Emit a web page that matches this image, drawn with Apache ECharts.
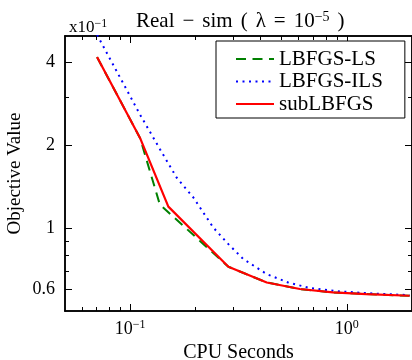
<!DOCTYPE html>
<html><head><meta charset="utf-8">
<script src="https://cdn.jsdelivr.net/npm/echarts@6/dist/echarts.min.js"></script>
<style>html,body{margin:0;padding:0;background:#fff}#c{width:412px;height:360px}</style>
</head><body><div id="c"></div>
<script>
const seriesNames = ['LBFGS-LS', 'LBFGS-ILS', 'subLBFGS'];
const lsTime   = [0.0703, 0.111, 0.137, 0.284, 0.427, 0.607, 0.862, 1.23, 1.95];
const lsValue  = [4.19, 2.13, 1.22, 0.724, 0.635, 0.601, 0.584, 0.576, 0.568];
const ilsTime  = [0.0703, 0.111, 0.1374, 0.164, 0.196, 0.242, 0.284, 0.333, 0.427, 0.536, 0.675, 0.929, 1.32, 1.95];
const ilsValue = [5.05, 2.59, 1.934, 1.526, 1.291, 1.005, 0.875, 0.772, 0.681, 0.635, 0.606, 0.589, 0.579, 0.571];
const subTime  = [0.0703, 0.111, 0.150, 0.284, 0.427, 0.607, 0.862, 1.23, 1.95];
const subValue = [4.19, 2.13, 1.198, 0.724, 0.635, 0.601, 0.584, 0.576, 0.568];
const xMajorTicks = [0.1, 1];
const xMinorTicks = [0.06, 0.07, 0.08, 0.09, 0.2, 0.3, 0.4, 0.5, 0.6, 0.7, 0.8, 0.9, 2];
const yMajorTicks = [0.6, 1, 2, 4];
const yMinorTicks = [0.7, 0.8, 0.9, 3];

const FONT = 'Liberation Serif';
const xMin = 0.05, xMax = 2, yMin = 0.5, yMax = 5;
const pair = (xs, ys) => xs.map((x, i) => [x, ys[i]]);
const G = '{g| }';

function xAxisDef(pos, ticks, len, showLabel, extra) {
  return Object.assign({
    type: 'log', logBase: 10, min: xMin, max: xMax, position: pos,
    axisLine: { show: true, lineStyle: { color: '#000', width: 1.5 } },
    axisTick: { show: true, inside: true, length: len, customValues: ticks, lineStyle: { color: '#000', width: 1 } },
    axisLabel: { show: showLabel, customValues: ticks },
    splitLine: { show: false }, minorTick: { show: false }
  }, extra || {});
}
function yAxisDef(pos, ticks, len, showLabel, extra) {
  return Object.assign({
    type: 'log', logBase: 10, min: yMin, max: yMax, position: pos,
    axisLine: { show: true, lineStyle: { color: '#000', width: 1.5 } },
    axisTick: { show: true, inside: true, length: len, customValues: ticks, lineStyle: { color: '#000', width: 1 } },
    axisLabel: { show: showLabel, customValues: ticks },
    splitLine: { show: false }, minorTick: { show: false }
  }, extra || {});
}

const chart = echarts.init(document.getElementById('c'));
chart.setOption({
  animation: false,
  backgroundColor: '#fff',
  title: [
    { text: 'Real' + G + '−' + G + 'sim' + G + '(' + G + 'λ' + G + '=' + G + '10{s|−5}' + G + ')', left: 131, top: 5,
      textStyle: { fontFamily: FONT, fontSize: 21, fontWeight: 'normal', color: '#000',
        rich: { s: { fontFamily: FONT, fontSize: 14, padding: [0, 0, 9, 0], color: '#000' },
                g: { width: 8, fontFamily: FONT, fontSize: 21 } } } },
    { text: 'x10{s|−1}', left: 64, top: 13,
      textStyle: { fontFamily: FONT, fontSize: 17, fontWeight: 'normal', color: '#000',
        rich: { s: { fontFamily: FONT, fontSize: 12, padding: [0, 0, 7, 0], color: '#000' } } } }
  ],
  grid: { left: 65, right: 0, top: 36, bottom: 49, containLabel: false, outerBoundsMode: 'none' },
  legend: {
    orient: 'vertical', left: 216, top: 41,
    padding: [7, 22, 3, 19], itemWidth: 38, itemHeight: 14, itemGap: 0.5,
    borderColor: '#000', borderWidth: 1, backgroundColor: '#fff',
    itemStyle: { opacity: 0 },
    textStyle: { fontFamily: FONT, fontSize: 21, lineHeight: 22, color: '#000' },
    data: seriesNames
  },
  xAxis: [
    xAxisDef('bottom', xMajorTicks, 7, true, {
      name: 'CPU Seconds', nameLocation: 'middle', nameGap: 31,
      nameTextStyle: { fontFamily: FONT, fontSize: 20, color: '#000' },
      axisLabel: { show: true, customValues: xMajorTicks, margin: 8,
        formatter: v => (Math.abs(v - 1) < 1e-6 ? '10{s|0}' : '10{s|−1}'),
        fontFamily: FONT, fontSize: 18, color: '#000',
        rich: { s: { fontFamily: FONT, fontSize: 12, padding: [0, 0, 8, 0], color: '#000' } } }
    }),
    xAxisDef('bottom', xMinorTicks, 4, false),
    xAxisDef('top', xMajorTicks, 7, false),
    xAxisDef('top', xMinorTicks, 4, false)
  ],
  yAxis: [
    yAxisDef('left', yMajorTicks, 7, true, {
      name: 'Objective Value', nameLocation: 'middle', nameGap: 40, nameRotate: 90,
      nameMoveOverlap: false,
      nameTextStyle: { fontFamily: FONT, fontSize: 19, color: '#000' },
      axisLabel: { show: true, customValues: yMajorTicks, margin: 10,
        formatter: v => String(+v.toPrecision(3)),
        fontFamily: FONT, fontSize: 18, color: '#000' }
    }),
    yAxisDef('left', yMinorTicks, 4, false),
    yAxisDef('right', yMajorTicks, 7, false),
    yAxisDef('right', yMinorTicks, 4, false)
  ],
  series: [
    { name: seriesNames[0], type: 'line', data: pair(lsTime, lsValue), symbol: 'none', clip: true,
      itemStyle: { color: '#008000' }, lineStyle: { color: '#008000', width: 2, type: [10, 6.5] } },
    { name: seriesNames[1], type: 'line', data: pair(ilsTime, ilsValue), symbol: 'none', clip: true,
      itemStyle: { color: '#0000ff' }, lineStyle: { color: '#0000ff', width: 2, type: [2, 4.5] } },
    { name: seriesNames[2], type: 'line', data: pair(subTime, subValue), symbol: 'none', clip: true,
      itemStyle: { color: '#ff0000' }, lineStyle: { color: '#ff0000', width: 2.2 } }
  ]
});
</script>
</body></html>
